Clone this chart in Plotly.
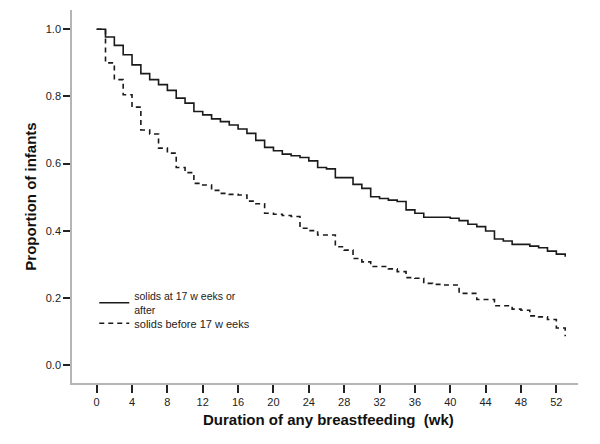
import plotly.graph_objects as go

weeks = list(range(0, 54))

solid_after17 = [1.0, 0.977, 0.952, 0.924, 0.894, 0.868, 0.850, 0.835, 0.818, 0.795,
                 0.780, 0.755, 0.745, 0.733, 0.725, 0.715, 0.703, 0.690, 0.669, 0.648,
                 0.638, 0.628, 0.623, 0.618, 0.608, 0.588, 0.584, 0.558, 0.558, 0.538,
                 0.526, 0.501, 0.496, 0.491, 0.487, 0.462, 0.452, 0.440, 0.440, 0.440,
                 0.437, 0.430, 0.419, 0.412, 0.399, 0.375, 0.369, 0.359, 0.359, 0.354,
                 0.349, 0.339, 0.330, 0.322]

solid_before17 = [1.0, 0.900, 0.850, 0.805, 0.768, 0.700, 0.688, 0.646, 0.631, 0.588,
                  0.573, 0.541, 0.536, 0.520, 0.511, 0.508, 0.506, 0.488, 0.480, 0.452,
                  0.449, 0.445, 0.442, 0.407, 0.400, 0.387, 0.387, 0.352, 0.342, 0.317,
                  0.307, 0.293, 0.293, 0.286, 0.278, 0.260, 0.258, 0.243, 0.240, 0.238,
                  0.238, 0.213, 0.213, 0.195, 0.195, 0.176, 0.176, 0.166, 0.163, 0.146,
                  0.143, 0.135, 0.110, 0.085]

x_ticks = list(range(0, 53, 4))
y_ticks = [0.0, 0.2, 0.4, 0.6, 0.8, 1.0]
y_tick_labels = ["0.0", "0.2", "0.4", "0.6", "0.8", "1.0"]

label_after = "solids at 17 w eeks or<br>after"
label_before = "solids before 17 w eeks"
x_title = "<b>Duration of any breastfeeding  (wk)</b>"
y_title = "<b>Proportion of infants</b>"

FONT = "Arial, Liberation Sans, sans-serif"

fig = go.Figure()
fig.add_trace(go.Scatter(
    x=weeks, y=solid_after17, mode="lines", line_shape="hv",
    line=dict(color="#1a1a1a", width=1.6), name=label_after, legend="legend"))
fig.add_trace(go.Scatter(
    x=weeks, y=solid_before17, mode="lines", line_shape="hv",
    line=dict(color="#1a1a1a", width=1.6, dash="5px,4px"), name=label_before,
    legend="legend2"))

leg_common = dict(xanchor="left", yanchor="top", bgcolor="rgba(0,0,0,0)",
                  itemwidth=30)

fig.update_layout(
    width=600, height=444,
    margin=dict(l=64, r=30, t=2, b=69),
    paper_bgcolor="white", plot_bgcolor="white",
    font=dict(family=FONT, size=11, color="#222"),
    showlegend=True,
    legend=dict(x=0.044, y=0.269, font=dict(size=10.5, color="#222"), **leg_common),
    legend2=dict(x=0.044, y=0.199, font=dict(size=11, color="#222"), **leg_common),
    xaxis=dict(range=[-2.79, 54.45], tickvals=x_ticks, ticktext=[str(v) for v in x_ticks],
               showline=True, linecolor="#b5b5b5", linewidth=1.5,
               ticks="outside", ticklen=8, tickwidth=1.5, tickcolor="#222",
               showgrid=False, zeroline=False, automargin=False,
               tickfont=dict(size=11, color="#222")),
    yaxis=dict(range=[-0.054, 1.0575], tickvals=y_ticks, ticktext=y_tick_labels,
               showline=True, linecolor="#b5b5b5", linewidth=1.5,
               ticks="outside", ticklen=7, tickwidth=1.5, tickcolor="#222",
               showgrid=False, zeroline=False, automargin=False,
               tickfont=dict(size=11, color="#222"),
               title=dict(text=y_title, font=dict(size=15, color="#111"), standoff=6)),
    annotations=[dict(text=x_title, xref="paper", yref="paper", x=0.506, y=-0.099,
                      xanchor="center", yanchor="middle", showarrow=False,
                      font=dict(size=15, color="#111"))],
)

fig.write_html("out.html")
